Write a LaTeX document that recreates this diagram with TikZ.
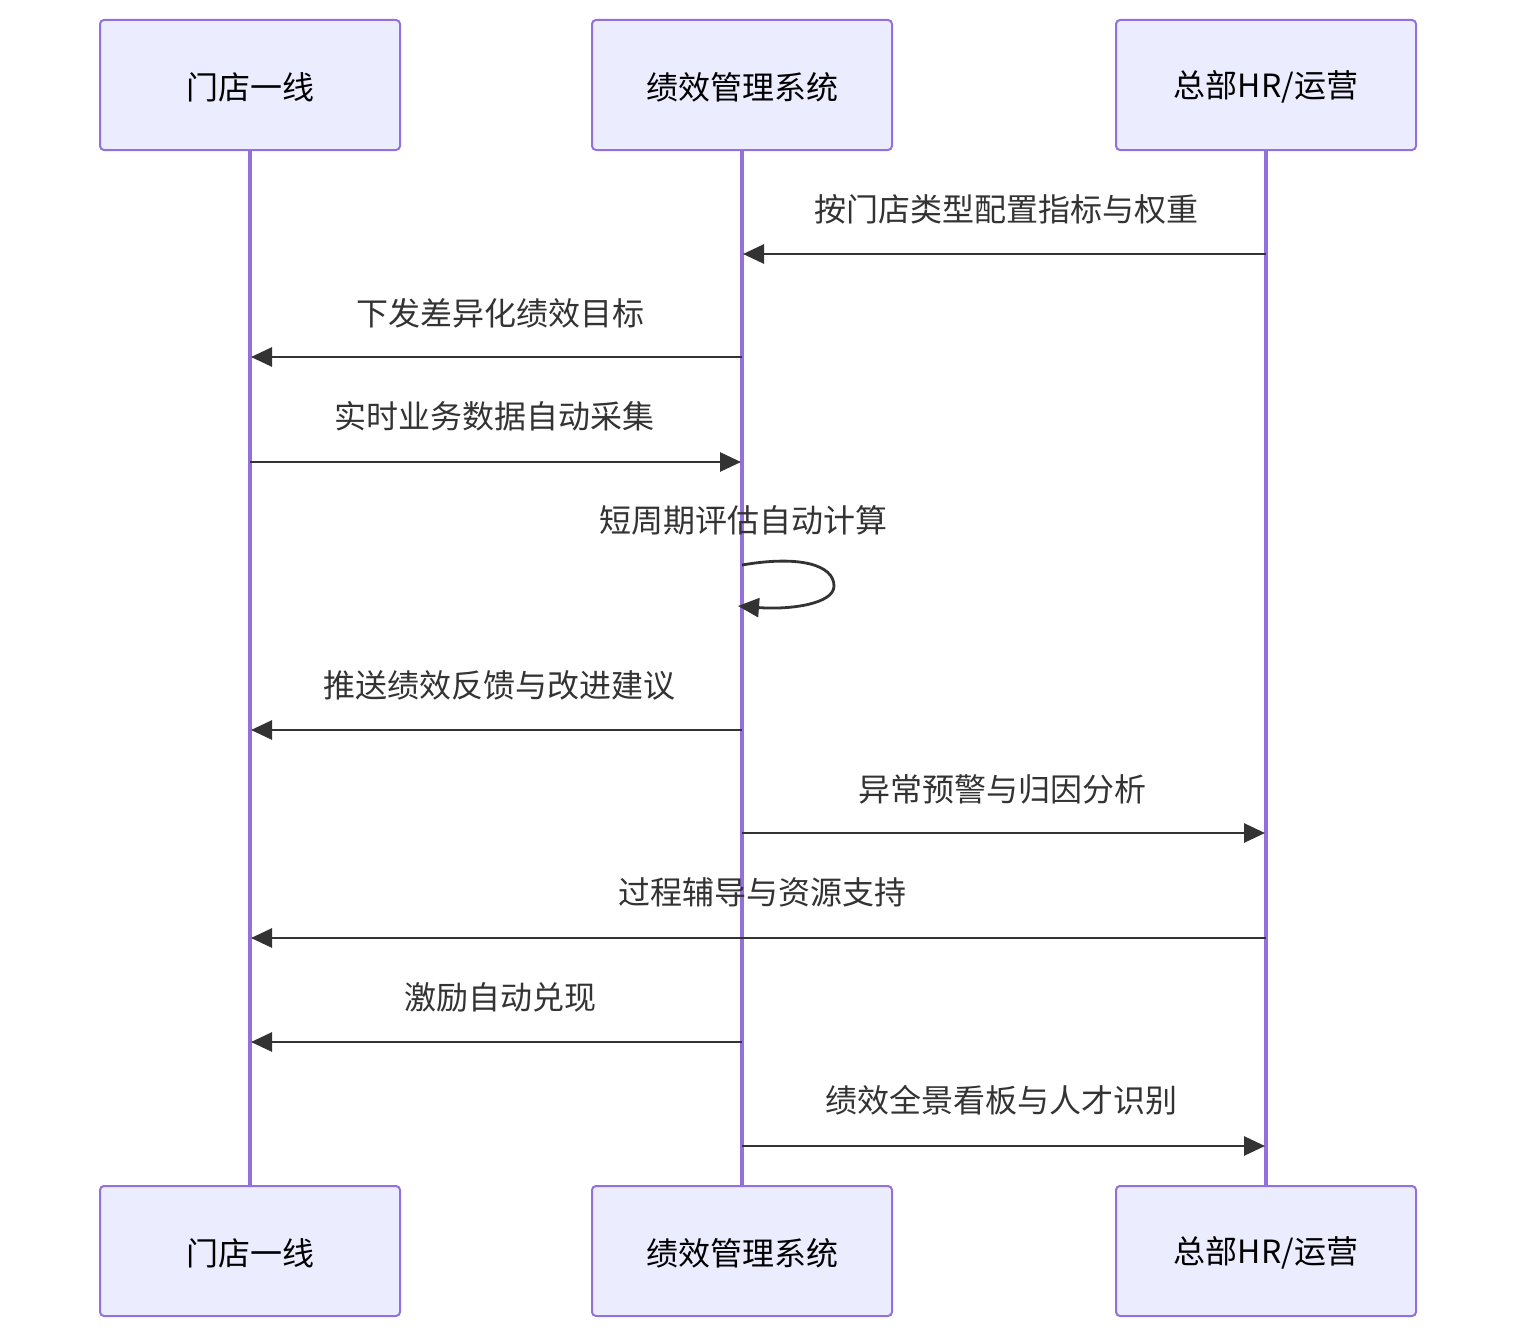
\documentclass[tikz,border=0pt]{standalone}
\usepackage{fontspec}
\setmainfont{Noto Sans CJK SC}
\usetikzlibrary{arrows.meta}
\definecolor{actfill}{HTML}{ECECFF}
\definecolor{actline}{HTML}{9370DB}
\definecolor{msg}{HTML}{333333}
\begin{document}
\begin{tikzpicture}[x=1pt,y=-1pt,
  actor/.style={draw=actline,fill=actfill,line width=2pt,rounded corners=4pt,minimum width=300pt,minimum height=130pt,inner sep=0pt,text=black},
  actortext/.style={font=\fontsize{32}{38}\selectfont,text=black,inner sep=0pt},
  life/.style={draw=actline,line width=3.6pt},
  msgline/.style={draw=msg,line width=2.8pt,-{Triangle[length=21pt,width=19pt]}},
  lbl/.style={font=\fontsize{32}{38}\selectfont,text=msg,inner sep=0pt}]
\useasboundingbox (0,0) rectangle (1516,1338);
\node[actor] (a1) at (250,85) {};
\node[actor] (a2) at (742,85) {};
\node[actor] (a3) at (1266,85) {};
\node[actor] (b1) at (250,1251) {};
\node[actor] (b2) at (742,1251) {};
\node[actor] (b3) at (1266,1251) {};
\node[actortext] (t1) at (250,87) {门店一线};
\node[actortext] (t2) at (742,87) {绩效管理系统};
\node[actortext] (t3) at (1266,87) {总部HR/运营};
\node[actortext] (u1) at (250,1253) {门店一线};
\node[actortext] (u2) at (742,1253) {绩效管理系统};
\node[actortext] (u3) at (1266,1253) {总部HR/运营};
\draw[life] (a1.south) -- (b1.north);
\draw[life] (a2.south) -- (b2.north);
\draw[life] (a3.south) -- (b3.north);
% message endpoints
\coordinate (m1s) at (1266,254); \coordinate (m1e) at (743,254);
\coordinate (m2s) at (742,357); \coordinate (m2e) at (251,357);
\coordinate (m3s) at (250,462); \coordinate (m3e) at (741,462);
\coordinate (m4s) at (742,565); \coordinate (m4e) at (738,606);
\coordinate (m5s) at (742,730); \coordinate (m5e) at (251,730);
\coordinate (m6s) at (742,833); \coordinate (m6e) at (1265,833);
\coordinate (m7s) at (1266,938); \coordinate (m7e) at (251,938);
\coordinate (m8s) at (742,1042); \coordinate (m8e) at (251,1042);
\coordinate (m9s) at (742,1146); \coordinate (m9e) at (1265,1146);
\draw[msgline] (m1s) -- (m1e);
\draw[msgline] (m2s) -- (m2e);
\draw[msgline] (m3s) -- (m3e);
\draw[msgline] (m4s) .. controls (800,555) and (834,565) .. (834,586) .. controls (834,604) and (790,610) .. (m4e);
\draw[msgline] (m5s) -- (m5e);
\draw[msgline] (m6s) -- (m6e);
\draw[msgline] (m7s) -- (m7e);
\draw[msgline] (m8s) -- (m8e);
\draw[msgline] (m9s) -- (m9e);
\node[lbl] (l1) at (1006,209) {按门店类型配置指标与权重};
\node[lbl] (l2) at (500,313) {下发差异化绩效目标};
\node[lbl] (l3) at (494,416) {实时业务数据自动采集};
\node[lbl] (l4) at (743,520) {短周期评估自动计算};
\node[lbl] (l5) at (499,685) {推送绩效反馈与改进建议};
\node[lbl] (l6) at (1002,789) {异常预警与归因分析};
\node[lbl] (l7) at (762,892) {过程辅导与资源支持};
\node[lbl] (l8) at (500,997) {激励自动兑现};
\node[lbl] (l9) at (1001,1100) {绩效全景看板与人才识别};
\end{tikzpicture}
\end{document}
